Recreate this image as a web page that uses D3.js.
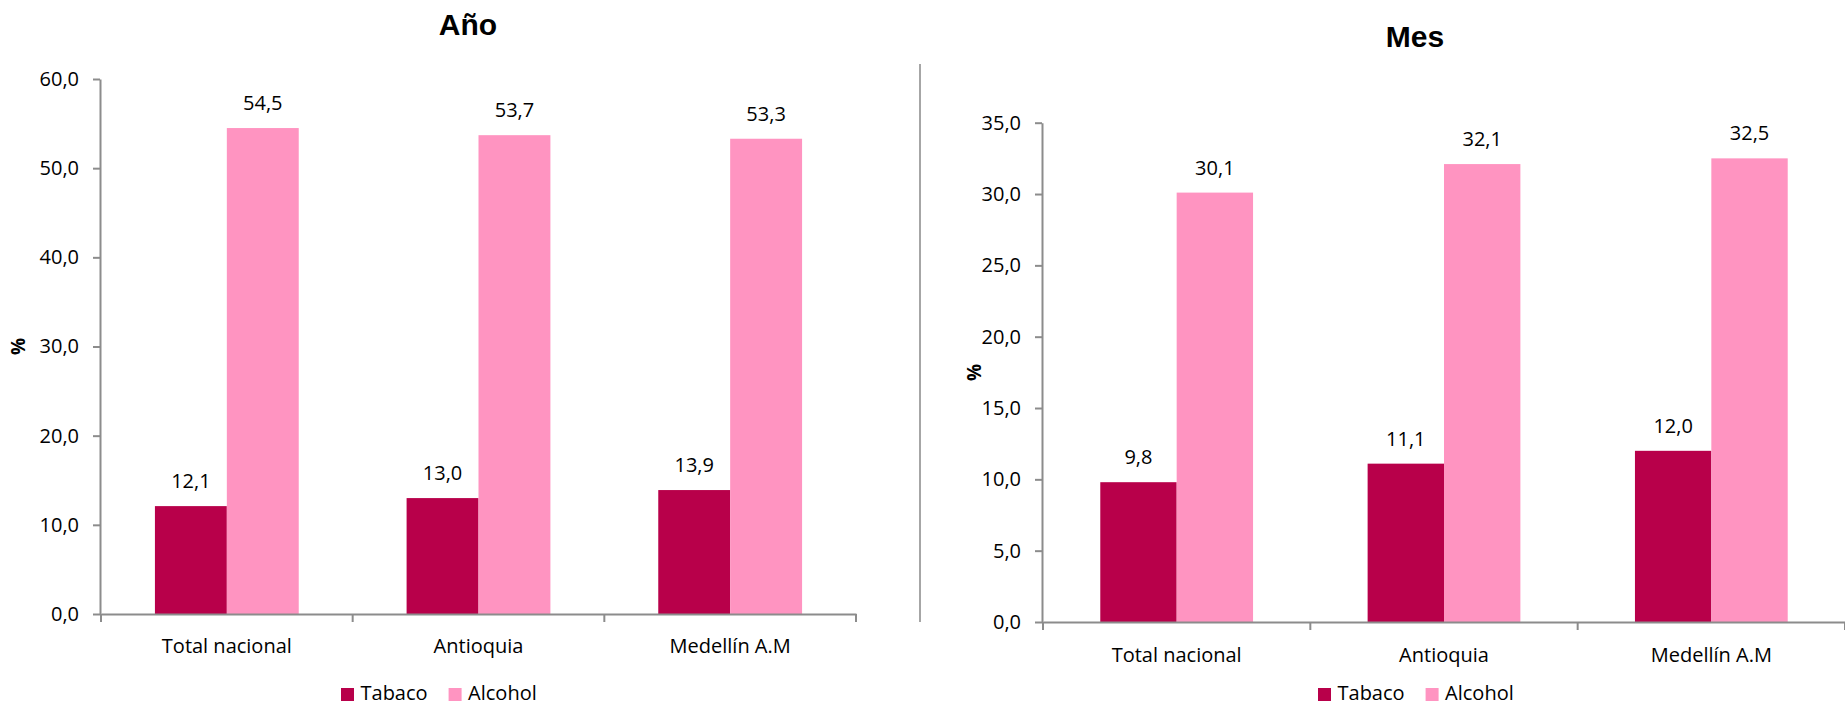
<!DOCTYPE html>
<html>
<head>
<meta charset="utf-8">
<script src="https://cdn.jsdelivr.net/npm/d3@7"></script>
<style>
  html, body { margin: 0; padding: 0; background: #fff; }
  svg { display: block; }
  text { font-family: "Open Sans", "Noto Sans", sans-serif; fill: #000; }
</style>
</head>
<body>
<svg id="chart" width="1845" height="705"></svg>
<script>
// ---- data ----
const categories = ["Total nacional", "Antioquia", "Medellín A.M"];
const seriesNames = ["Tabaco", "Alcohol"];
const seriesColors = ["#B8004A", "#FF94C1"];

const anoTabaco = [12.1, 13.0, 13.9];
const anoAlcohol = [54.5, 53.7, 53.3];
const mesTabaco = [9.8, 11.1, 12.0];
const mesAlcohol = [30.1, 32.1, 32.5];

const anoTicks = [0, 10, 20, 30, 40, 50, 60];
const mesTicks = [0, 5, 10, 15, 20, 25, 30, 35];

const titles = ["Año", "Mes"];
const yAxisLabel = "%";

// ---- helpers ----
const locale = d3.formatLocale({ decimal: ",", thousands: ".", grouping: [3], currency: ["", ""] });
const fmt = locale.format(".1f");

const svg = d3.select("#chart");
const axisColor = "#8c8c8c";
const fs = "20px";

const panels = [
  { title: titles[0], tabaco: anoTabaco, alcohol: anoAlcohol, ticks: anoTicks,
    x0: 101, x1: 856, yTop: 79, yBottom: 614, titleX: 468, titleY: 35,
    pctX: 19, legendX: 341, xLabelPad: 24.5 },
  { title: titles[1], tabaco: mesTabaco, alcohol: mesAlcohol, ticks: mesTicks,
    x0: 1043, x1: 1845, yTop: 122.7, yBottom: 622, titleX: 1415, titleY: 46.5,
    pctX: 975, legendX: 1318, xLabelPad: 25.5 }
];

panels.forEach(p => {
  const g = svg.append("g");
  const y = d3.scaleLinear().domain([d3.min(p.ticks), d3.max(p.ticks)]).range([p.yBottom, p.yTop]);
  const x = d3.scaleBand().domain(categories).range([p.x0, p.x1]).paddingInner(0).paddingOuter(0);
  const xs = d3.scaleBand().domain(seriesNames).range([0, x.bandwidth()]).paddingInner(0).paddingOuter(0.75);

  const rows = categories.map((c, i) => ({ cat: c, values: [p.tabaco[i], p.alcohol[i]] }));

  // bars
  const grp = g.selectAll("g.cat").data(rows).join("g")
    .attr("transform", d => `translate(${x(d.cat)},0)`);
  grp.selectAll("rect").data(d => d.values.map((v, k) => ({ v, k })))
    .join("rect")
    .attr("x", d => xs(seriesNames[d.k]))
    .attr("width", xs.bandwidth())
    .attr("y", d => y(d.v))
    .attr("height", d => y(0) - y(d.v))
    .attr("fill", d => seriesColors[d.k]);
  grp.selectAll("text.val").data(d => d.values.map((v, k) => ({ v, k })))
    .join("text")
    .attr("class", "val")
    .attr("x", d => xs(seriesNames[d.k]) + xs.bandwidth() / 2)
    .attr("y", d => y(d.v) - 18)
    .attr("text-anchor", "middle")
    .style("font-size", fs)
    .text(d => fmt(d.v));

  // y axis
  const yAxis = g.append("g")
    .attr("transform", `translate(${p.x0 - 1},0)`)
    .call(d3.axisLeft(y).tickValues(p.ticks).tickSize(7).tickPadding(14).tickFormat(fmt).tickSizeOuter(0));
  yAxis.select(".domain").attr("stroke", axisColor).attr("stroke-width", 2);
  yAxis.selectAll(".tick line").attr("stroke", axisColor).attr("stroke-width", 2);
  yAxis.selectAll(".tick text").style("font-size", fs).attr("fill", "#000")
    .style("font-family", "'Open Sans', sans-serif");

  // x axis
  const xAxis = g.append("g")
    .attr("transform", `translate(0,${p.yBottom})`)
    .call(d3.axisBottom(x).tickSize(0).tickPadding(p.xLabelPad).tickSizeOuter(0));
  xAxis.select(".domain").attr("stroke", axisColor).attr("stroke-width", 2);
  xAxis.selectAll(".tick text").style("font-size", fs).attr("fill", "#000")
    .style("font-family", "'Open Sans', sans-serif");
  const bounds = categories.map(c => x(c)).concat([x.range()[1]]);
  xAxis.selectAll("line.bound").data(bounds).join("line")
    .attr("class", "bound")
    .attr("x1", d => d).attr("x2", d => d)
    .attr("y1", 0).attr("y2", 8)
    .attr("stroke", axisColor).attr("stroke-width", 2);

  // title
  g.append("text")
    .attr("x", p.titleX).attr("y", p.titleY)
    .attr("text-anchor", "middle")
    .style("font-family", "'Liberation Sans', Arial, sans-serif")
    .style("font-weight", "bold")
    .style("font-size", "30px")
    .text(p.title);

  // y label
  const cy = (p.yTop + p.yBottom) / 2;
  g.append("text")
    .attr("transform", `translate(${p.pctX + 6},${cy}) rotate(-90)`)
    .attr("text-anchor", "middle")
    .style("font-weight", "bold")
    .style("font-size", "19px")
    .text(yAxisLabel);

  // legend
  const lg = g.append("g").attr("transform", `translate(${p.legendX},0)`);
  let cx = 0;
  seriesNames.forEach((s, k) => {
    lg.append("rect").attr("x", cx).attr("y", 688).attr("width", 13).attr("height", 13)
      .attr("fill", seriesColors[k]);
    const t = lg.append("text").attr("x", cx + 19.5).attr("y", 700)
      .style("font-size", fs).text(s);
    cx += 19.5 + t.node().getComputedTextLength() + 21;
  });
});

// separator
svg.append("line")
  .attr("x1", 920).attr("x2", 920).attr("y1", 64).attr("y2", 622)
  .attr("stroke", "#a6a6a6").attr("stroke-width", 2);
</script>
</body>
</html>
